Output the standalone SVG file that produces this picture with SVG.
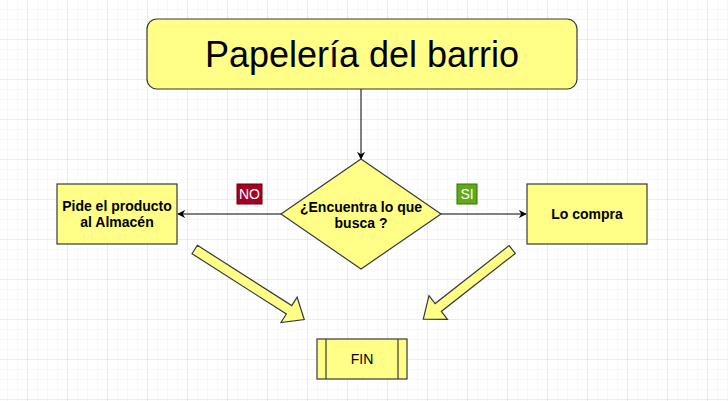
<svg xmlns="http://www.w3.org/2000/svg" width="728" height="401" viewBox="0 0 728 401">
<style>
.shape{fill:#ffff88;stroke:#36393d;stroke-width:1.2}
.bt{font-family:"Liberation Sans",Arial,sans-serif;font-size:14px;font-weight:bold;fill:#000;text-anchor:middle}
.nt{font-family:"Liberation Sans",Arial,sans-serif;font-size:14px;fill:#000;text-anchor:middle}
.wt{font-family:"Liberation Sans",Arial,sans-serif;font-size:14px;fill:#fff;text-anchor:middle}
.conn{stroke:#000;stroke-width:1;fill:none}
</style>
<defs>
<pattern id="minor" x="7" y="9" width="10" height="10" patternUnits="userSpaceOnUse">
<path d="M0 0H10M0 0V10" stroke="#f2f2f2" stroke-width="1" fill="none"/>
</pattern>
<pattern id="major" x="27" y="39" width="40" height="40" patternUnits="userSpaceOnUse">
<path d="M0 0H40M0 0V40" stroke="#e2e2e2" stroke-width="1.2" fill="none"/>
</pattern>
<marker id="arr" viewBox="0 0 10 10" refX="9" refY="5" markerWidth="8" markerHeight="8" markerUnits="userSpaceOnUse" orient="auto">
<path d="M0 0L10 5L0 10L3 5Z" fill="#000"/>
</marker>
</defs>
<rect width="728" height="401" fill="#fff"/>
<rect width="728" height="401" fill="url(#minor)"/>
<rect width="728" height="401" fill="url(#major)"/>

<g id="connectors">
<line class="conn" x1="361" y1="89" x2="361" y2="159" marker-end="url(#arr)"/>
<line class="conn" x1="281" y1="214" x2="178" y2="214" marker-end="url(#arr)"/>
<line class="conn" x1="441" y1="214" x2="526" y2="214" marker-end="url(#arr)"/>
</g>

<g id="title">
<rect class="shape" x="147" y="19" width="430" height="70" rx="10"/>
<text x="362" y="67" font-family="'Liberation Sans',Arial,sans-serif" font-size="36" text-anchor="middle" fill="#000">Papelería del barrio</text>
</g>

<g id="decision">
<polygon class="shape" points="361,159 441,214 361,269 281,214"/>
<text class="bt" x="361" y="212">¿Encuentra lo que</text>
<text class="bt" x="361" y="228">busca ?</text>
</g>

<g id="pide">
<rect class="shape" x="57" y="184" width="120" height="60"/>
<text class="bt" x="117" y="211">Pide el producto</text>
<text class="bt" x="117" y="227">al Almacén</text>
</g>

<g id="compra">
<rect class="shape" x="527" y="184" width="120" height="60"/>
<text class="bt" x="587" y="219">Lo compra</text>
</g>

<g id="label-no">
<rect x="237" y="184" width="25" height="20" fill="#a20025" stroke="#6f0000"/>
<text class="wt" x="249.5" y="199">NO</text>
</g>

<g id="label-si">
<rect x="457" y="184" width="20" height="20" fill="#60a917" stroke="#2d7600"/>
<text class="wt" x="467" y="199">SI</text>
</g>

<g id="arrow-left">
<polygon class="shape" transform="translate(194.7,249.5) rotate(32.6)" points="0,-5 112,-5 112,-15 130,0 112,15 112,5 0,5"/>
</g>

<g id="arrow-right">
<polygon class="shape" transform="translate(512.2,249.5) rotate(141.9)" points="0,-5 94,-5 94,-15 113,0 94,15 94,5 0,5"/>
</g>

<g id="fin">
<rect class="shape" x="317" y="339" width="90" height="40"/>
<line x1="326" y1="339" x2="326" y2="379" stroke="#36393d" stroke-width="1.2"/>
<line x1="398" y1="339" x2="398" y2="379" stroke="#36393d" stroke-width="1.2"/>
<text class="nt" x="362" y="364">FIN</text>
</g>
</svg>
